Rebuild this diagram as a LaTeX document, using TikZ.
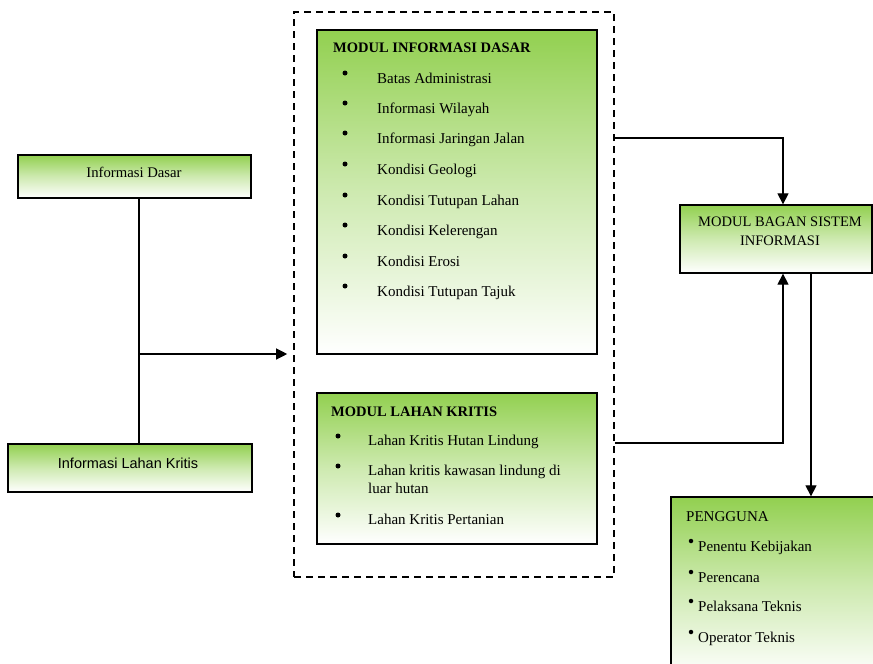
\documentclass[tikz,border=0pt]{standalone}
\usepackage{fontspec}
\setmainfont{Liberation Serif}
\setsansfont{Liberation Sans}
\usetikzlibrary{arrows.meta}

\definecolor{leaf}{RGB}{146,208,80}

\begin{document}
\begin{tikzpicture}[
        x=1pt, y=-1pt,
        box/.style={draw, line width=1.3pt, shade, top color=leaf, bottom color=white,
            middle color=leaf!45, inner sep=0pt},
        group/.style={draw, dashed, line width=1.6pt, dash pattern=on 7pt off 5pt, inner sep=0pt},
        line/.style={line width=1.2pt},
        arr/.style={line, -{Triangle[length=11pt,width=11pt]}},
        title/.style={font=\fontsize{14.5}{16}\selectfont\bfseries, anchor=base west, inner sep=0pt},
        item/.style={font=\fontsize{15}{17}\selectfont, anchor=base west, inner sep=0pt, align=left},
        dot/.style={circle, fill, inner sep=0pt, minimum size=5pt}
    ]

    \useasboundingbox (0,0) rectangle (873,664);
    \clip (0,0) rectangle (873,664);

        % left sources
        \node[box, minimum width=233pt, minimum height=43pt] (dasar) at (134.5,176.5) {};
        \node[font=\fontsize{14.7}{16}\selectfont, anchor=base] (dasarTxt) at (134,177) {Informasi Dasar};
        \node[box, minimum width=244pt, minimum height=48pt] (lahan) at (130,468) {};
        \node[font=\sffamily\fontsize{14.5}{16}\selectfont, anchor=base] (lahanTxt) at (128,468) {Informasi Lahan Kritis};

        % dashed group with the two modules
        \node[group, minimum width=320pt, minimum height=565pt] (grp) at (454,294.5) {};
        \node[box, minimum width=280pt, minimum height=324pt] (infoMod) at (457,192) {};
        \node[title] (infoTitle) at (333,52) {MODUL INFORMASI DASAR};
        \foreach \y/\txt [count=\i] in {78/Batas Administrasi, 108/Informasi Wilayah,
                138/Informasi Jaringan Jalan, 169/Kondisi Geologi, 200/Kondisi Tutupan Lahan,
                230/Kondisi Kelerengan, 261/Kondisi Erosi, 291/Kondisi Tutupan Tajuk} {
            \node[dot] (infoDot\i) at (345,\y-5) {};
            \node[item] (info\i) at (377,\y+5) {\txt};
        }

        \node[box, minimum width=280pt, minimum height=151pt] (kritisMod) at (457,468.5) {};
        \node[title] (kritisTitle) at (331,416) {MODUL LAHAN KRITIS};
        \node[dot] (kritisDot1) at (338,436) {};
        \node[item] (kritis1) at (368,445) {Lahan Kritis Hutan Lindung};
        \node[dot] (kritisDot2) at (338,466) {};
        \node[item, anchor=north west] (kritis2) at (368,465) {Lahan kritis kawasan lindung di\\[1pt]luar hutan};
        \node[dot] (kritisDot3) at (338,515) {};
        \node[item] (kritis3) at (368,524) {Lahan Kritis Pertanian};

        % right side
        \node[box, minimum width=192pt, minimum height=68pt] (bagan) at (776,239) {};
        \node[font=\fontsize{14.5}{19}\selectfont, align=center, anchor=north] (baganTxt) at (780,213)
            {MODUL BAGAN SISTEM\\INFORMASI};

        \node[box, minimum width=210pt, minimum height=180pt] (user) at (776,587) {};
        \node[item] (userTitle) at (686,521) {PENGGUNA};
        \foreach \y/\txt [count=\i] in {546/Penentu Kebijakan, 577/Perencana,
                606/Pelaksana Teknis, 637/Operator Teknis} {
            \node[dot, minimum size=4.5pt] (userDot\i) at (691,\y-5) {};
            \node[item] (user\i) at (698,\y+5) {\txt};
        }

        % connectors
        \coordinate (joint) at (139,354);
        \draw[line] (joint |- dasar.south) -- (joint |- lahan.north);
        \draw[arr] (joint) -- ([xshift=-6pt]joint -| grp.west);
        \coordinate (toBagan) at (783,0);
        \draw[arr] (grp.east |- 0,138) -| (toBagan |- bagan.north);
        \draw[arr] (grp.east |- 0,443) -| (toBagan |- bagan.south);
        \coordinate (toUser) at (811,0);
        \draw[arr] (toUser |- bagan.south) -- (toUser |- user.north);

    \end{tikzpicture}
\end{document}
